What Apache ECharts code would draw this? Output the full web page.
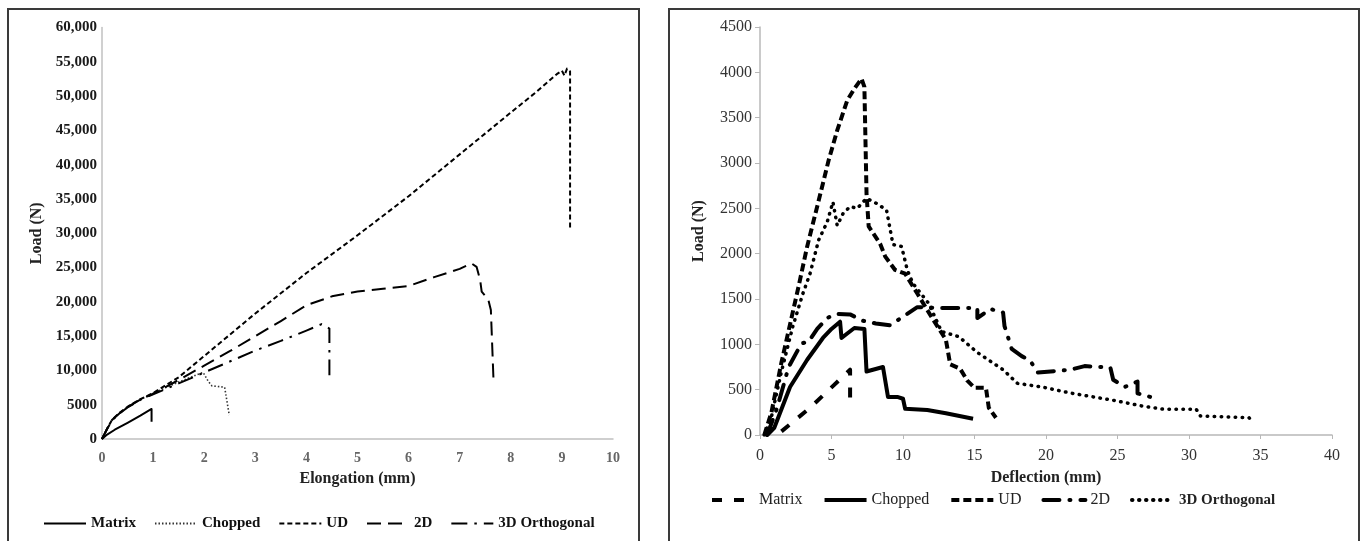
<!DOCTYPE html>
<html>
<head>
<meta charset="utf-8">
<script src="https://cdn.jsdelivr.net/npm/echarts@6/dist/echarts.min.js"></script>
<style>
  html, body { margin: 0; padding: 0; background: #fff; }
  body { width: 1362px; height: 541px; position: relative; overflow: hidden; }
  .box { position: absolute; top: 8px; height: 560px; border: 2px solid #3a3a3a; box-sizing: border-box; }
  #leftBox { left: 7px; width: 633px; }
  #rightBox { left: 668px; width: 692px; }
  #left { position: absolute; left: 0; top: 0; width: 660px; height: 541px; }
  #right { position: absolute; left: 660px; top: 0; width: 702px; height: 541px; }
</style>
</head>
<body>
<div class="box" id="leftBox"></div>
<div class="box" id="rightBox"></div>
<div id="left"></div>
<div id="right"></div>
<script>
// ---------- Left chart: tensile load vs elongation ----------
const seriesNames = ['Matrix', 'Chopped', 'UD', '2D', '3D Orthogonal'];
const elongationTicks = [0, 1, 2, 3, 4, 5, 6, 7, 8, 9, 10];
const tensileLoadTicks = [0, 5000, 10000, 15000, 20000, 25000, 30000, 35000, 40000, 45000, 50000, 55000, 60000];

const tensileMatrix = [[0,0],[0.1,650],[0.25,1350],[0.5,2350],[0.75,3400],[0.97,4380],[0.97,2500]];
const tensileChopped = [[0,0],[0.1,1500],[0.2,2800],[0.35,3800],[0.5,4650],[0.75,5800],[1,6650],[1.25,7500],[1.5,8300],[1.75,9050],[1.98,9700],[2.08,8400],[2.15,7750],[2.4,7550],[2.49,3500]];
const tensileUD = [[0,0],[0.1,1500],[0.2,2850],[0.35,3850],[0.5,4700],[0.75,5800],[1,6700],[1.5,9000],[2,12100],[3,18300],[4,24200],[5,29700],[6,35400],[7,41500],[8,47600],[8.5,50600],[8.9,53200],[9.0,53700],[9.05,53000],[9.1,54000],[9.16,53600],[9.16,30800]];
const tensile2D = [[0,0],[0.1,1500],[0.2,2800],[0.35,3800],[0.5,4650],[0.75,5750],[1,6600],[1.5,8600],[2,10700],[2.5,12800],[3,15000],[3.5,17200],[4,19500],[4.5,20800],[5,21500],[5.5,21900],[6,22300],[6.5,23600],[7,24800],[7.23,25600],[7.33,25100],[7.4,23200],[7.43,21500],[7.56,20300],[7.61,18800],[7.66,8900]];
const tensile3D = [[0,0],[0.1,1450],[0.2,2750],[0.35,3750],[0.5,4600],[0.75,5700],[1,6500],[1.5,8100],[2,9700],[2.5,11300],[3,12900],[3.5,14300],[4,15800],[4.3,16750],[4.45,16100],[4.45,9300]];

// ---------- Right chart: flexural load vs deflection ----------
const deflectionTicks = [0, 5, 10, 15, 20, 25, 30, 35, 40];
const flexLoadTicks = [0, 500, 1000, 1500, 2000, 2500, 3000, 3500, 4000, 4500];

const flexMatrix = [[1.5,40],[3.5,300],[6.3,720],[6.3,390]];
const flexChopped = [[0.5,0],[1,80],[2.1,530],[3.3,830],[4.4,1070],[5.0,1170],[5.6,1250],[5.7,1070],[6.1,1120],[6.6,1180],[7.3,1170],[7.45,700],[8.6,750],[8.95,420],[9.6,420],[10.0,400],[10.15,290],[11.7,275],[13,240],[14.9,180]];
const flexUD = [[0.3,0],[0.8,250],[1.5,800],[2.0,1150],[2.7,1640],[3.3,2080],[4.0,2520],[4.8,3030],[5.4,3360],[6.1,3690],[6.6,3820],[7.1,3930],[7.3,3840],[7.45,2660],[7.6,2300],[8.4,2110],[8.75,1970],[9.45,1820],[10.15,1780],[11,1560],[12,1300],[13,1050],[13.3,780],[14,730],[14.5,600],[15,520],[15.8,520],[16,300],[16.5,190]];
const flex2D = [[0.5,0],[1.2,300],[2.0,750],[2.9,1010],[3.4,1030],[4.0,1170],[4.7,1290],[5.3,1335],[6.3,1330],[7.2,1260],[8.1,1230],[9.1,1210],[11.0,1410],[13.0,1400],[15.2,1400],[15.2,1290],[16.1,1390],[17.0,1350],[17.1,1200],[17.6,950],[18.3,870],[18.9,820],[19.4,690],[20.6,705],[21.7,720],[22.7,760],[24.5,745],[24.7,610],[25.5,530],[26.4,590],[26.4,460],[26.8,440],[27.3,420]];
const flex3D = [[0.3,0],[0.8,200],[1.5,700],[2.3,1200],[3.0,1560],[3.5,1780],[4.1,2150],[4.7,2350],[5.1,2570],[5.4,2310],[5.8,2440],[6.3,2520],[6.8,2500],[7.45,2610],[8.2,2550],[8.85,2480],[9.3,2100],[9.9,2080],[10.3,1820],[10.7,1670],[11.8,1450],[12.7,1140],[13.9,1085],[15.2,910],[17,720],[18,570],[19.7,530],[21.8,460],[24.8,380],[26.7,320],[28.2,285],[30.5,285],[30.8,210],[34.2,190],[34.5,130]];

const SERIF = '"Liberation Serif", "DejaVu Serif", serif';

function fmtThousands(v) {
  if (v < 10000) return String(v);
  return String(v).replace(/\B(?=(\d{3})+(?!\d))/g, ',');
}
function fmtPlain(v) { return String(v); }

function lineSeries(name, data, width, dash, color, cap) {
  return {
    name: name, type: 'line', data: data, symbol: 'none', smooth: false,
    lineStyle: { color: color || '#000', width: width, type: dash, cap: cap || 'butt', join: 'round' },
    itemStyle: { color: color || '#000' },
    emphasis: { disabled: true }, animation: false
  };
}

const hiddenSymbol = { opacity: 0, borderWidth: 0 };

const leftChart = echarts.init(document.getElementById('left'), null, { renderer: 'canvas' });
leftChart.setOption({
  animation: false,
  grid: { left: 102, top: 27.5, width: 511, height: 411.5, containLabel: false },
  xAxis: {
    type: 'value', min: elongationTicks[0], max: elongationTicks[elongationTicks.length - 1], interval: 1,
    name: 'Elongation (mm)', nameLocation: 'middle', nameGap: 32,
    nameTextStyle: { fontFamily: SERIF, fontWeight: 'bold', fontSize: 16, color: '#222' },
    axisLine: { lineStyle: { color: '#c0c0c0', width: 1.5 } },
    axisTick: { show: false },
    axisLabel: { fontFamily: SERIF, fontWeight: 'bold', fontSize: 14, color: '#666', margin: 12, formatter: fmtPlain },
    splitLine: { show: false }
  },
  yAxis: {
    type: 'value', min: tensileLoadTicks[0], max: tensileLoadTicks[tensileLoadTicks.length - 1], interval: 5000,
    name: 'Load (N)', nameLocation: 'middle', nameGap: 56, nameRotate: 90,
    nameTextStyle: { fontFamily: SERIF, fontWeight: 'bold', fontSize: 16, color: '#222' },
    axisLine: { show: true, lineStyle: { color: '#c0c0c0', width: 1.5 } },
    axisTick: { show: false },
    axisLabel: { fontFamily: SERIF, fontWeight: 'bold', fontSize: 15, color: '#1a1a1a', margin: 5, formatter: fmtThousands },
    splitLine: { show: false }
  },
  legend: {
    left: 38, top: 511, itemWidth: 42, itemHeight: 12, itemGap: 18,
    data: seriesNames,
    itemStyle: hiddenSymbol,
    lineStyle: { width: 2 },
    textStyle: { fontFamily: SERIF, fontWeight: 'bold', fontSize: 15, color: '#111' },
    selectedMode: false
  },
  series: [
    lineSeries(seriesNames[0], tensileMatrix, 2, 'solid'),
    lineSeries(seriesNames[1], tensileChopped, 1.6, [1.5, 2], '#333'),
    lineSeries(seriesNames[2], tensileUD, 2, [5, 3]),
    lineSeries(seriesNames[3], tensile2D, 2, [14, 7]),
    lineSeries(seriesNames[4], tensile3D, 2, [16, 7, 2.5, 7])
  ]
});

const rightChart = echarts.init(document.getElementById('right'), null, { renderer: 'canvas' });
rightChart.setOption({
  animation: false,
  grid: { left: 100, top: 27, width: 572, height: 408, containLabel: false },
  xAxis: {
    type: 'value', min: deflectionTicks[0], max: deflectionTicks[deflectionTicks.length - 1], interval: 5,
    name: 'Deflection (mm)', nameLocation: 'middle', nameGap: 35,
    nameTextStyle: { fontFamily: SERIF, fontWeight: 'bold', fontSize: 16, color: '#222' },
    axisLine: { lineStyle: { color: '#b8b8b8', width: 1.5 } },
    axisTick: { show: true, length: 4, lineStyle: { color: '#b8b8b8' } },
    axisLabel: { fontFamily: SERIF, fontSize: 16, color: '#333', margin: 13, formatter: fmtPlain },
    splitLine: { show: false }
  },
  yAxis: {
    type: 'value', min: flexLoadTicks[0], max: flexLoadTicks[flexLoadTicks.length - 1], interval: 500,
    name: 'Load (N)', nameLocation: 'middle', nameGap: 53, nameRotate: 90,
    nameTextStyle: { fontFamily: SERIF, fontWeight: 'bold', fontSize: 16, color: '#222' },
    axisLine: { show: true, lineStyle: { color: '#b8b8b8', width: 1.5 } },
    axisTick: { show: true, length: 5, lineStyle: { color: '#b8b8b8' } },
    axisLabel: { fontFamily: SERIF, fontSize: 16, color: '#333', margin: 8, formatter: fmtPlain },
    splitLine: { show: false }
  },
  legend: {
    left: 45, top: 487, itemWidth: 42, itemHeight: 12, itemGap: 20,
    data: [
      { name: seriesNames[0] }, { name: seriesNames[1] }, { name: seriesNames[2] }, { name: seriesNames[3] },
      { name: seriesNames[4], textStyle: { fontWeight: 'bold', fontSize: 15 } }
    ],
    itemStyle: hiddenSymbol,
    lineStyle: { width: 4 },
    textStyle: { fontFamily: SERIF, fontSize: 16, color: '#222' },
    selectedMode: false
  },
  series: [
    lineSeries(seriesNames[0], flexMatrix, 4, [10, 12]),
    lineSeries(seriesNames[1], flexChopped, 4, 'solid'),
    lineSeries(seriesNames[2], flexUD, 4, [8, 4]),
    lineSeries(seriesNames[3], flex2D, 4, [16, 10, 1, 10], '#000', 'round'),
    lineSeries(seriesNames[4], flex3D, 3.5, [0.5, 6.5], '#000', 'round')
  ]
});
</script>
</body>
</html>
